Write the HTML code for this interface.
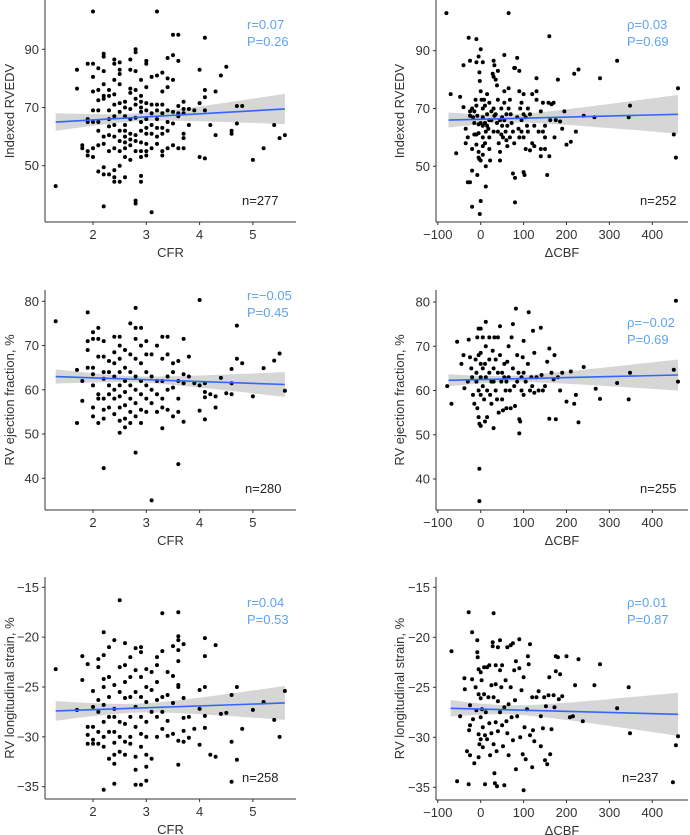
<!DOCTYPE html>
<html><head><meta charset="utf-8"><style>
html,body{margin:0;padding:0;background:#fff;}
svg{display:block;font-family:"Liberation Sans",sans-serif;}
</style></head><body>
<svg id="chart" width="690" height="835" viewBox="0 0 690 835"></svg>
<script>
const cfrTicks=[2,3,4,5];
const cbfTicks=[-100,0,100,200,300,400];
const rvedvTicks=[50,70,90];
const efTicks=[40,50,60,70,80];
const strainTicks=[-35,-30,-25,-20,-15];
const statLabels=[["r=0.07","P=0.26"],["\u03c1=0.03","P=0.69"],["r=\u22120.05","P=0.45"],["\u03c1=\u22120.02","P=0.69"],["r=0.04","P=0.53"],["\u03c1=0.01","P=0.87"]];
const nLabels=["n=277","n=252","n=280","n=255","n=258","n=237"];
// regression fits: [x1,y1,x2,y2]
const fitLines=[[1.3,65,5.6,69.5],[-75,66,460,68],[1.3,63,5.6,61.2],[-75,62.3,460,63.5],[1.3,-27.4,5.6,-26.6],[-70,-27.1,460,-27.7]];
// CI: [meanX, minHalfWidth, halfWidthAtRightEnd]
const ciParams=[[2.8,1.4,5.2],[60,1.4,6.7],[2.8,0.7,2.8],[60,0.7,3.5],[2.8,0.45,1.7],[60,0.45,2.15]];
const cfrRvedv=[[2.0,103],[3.2,103],[1.7,83],[1.7,76.5],[1.9,85],[2.0,85],[2.0,80.5],[2.1,83.5],[2.2,88.5],[2.2,87.5],[2.2,82.5],[2.0,75.5],[2.1,76],[2.1,72.5],[2.1,69],[2.0,69],[1.9,66],[1.9,65],[2.0,65],[2.1,65],[2.1,62],[2.2,78],[2.2,74],[2.2,73],[2.3,76],[2.3,74],[2.3,69],[2.3,66],[2.3,63.5],[2.3,60.5],[2.2,60],[2.2,57.5],[2.1,57],[2.0,56],[2.0,53],[1.9,55],[1.9,53.5],[1.8,57],[1.8,56],[2.1,48],[2.2,49.5],[2.2,47],[2.3,47],[2.4,48.5],[2.4,46],[2.4,44.5],[2.5,44.5],[2.5,50],[2.6,46],[2.2,36],[2.4,86.5],[2.4,85],[2.5,85.5],[2.5,83],[2.5,81.5],[2.4,79.5],[2.5,78],[2.4,74.5],[2.4,71],[2.5,71.5],[2.5,68.5],[2.4,67],[2.4,64],[2.5,62],[2.4,60],[2.5,58.5],[2.6,58],[2.6,56],[2.4,56],[2.5,55],[2.6,53],[2.3,55],[2.7,86.5],[2.7,83],[2.8,90],[2.8,89],[2.8,82.5],[2.7,76.5],[2.7,75],[2.8,76],[2.8,73],[2.8,71],[2.7,69.5],[2.6,72],[2.6,70],[2.6,67],[2.7,66],[2.8,66.5],[2.6,64],[2.6,62],[2.7,61],[2.8,60.5],[2.7,59],[2.6,60],[2.8,58.5],[2.7,57],[2.8,55],[2.7,52],[2.8,38],[2.8,37],[2.9,79.5],[2.9,74],[2.9,72],[2.9,70],[2.9,68.5],[2.9,65],[2.9,62],[2.9,58],[2.9,55],[2.9,53],[2.9,46.5],[2.9,44.5],[3.0,86],[3.0,85],[3.0,77],[3.0,71.5],[3.0,69],[3.0,66],[3.0,63],[3.0,61],[3.0,57.5],[3.0,55],[3.0,53.5],[3.1,80.5],[3.1,71],[3.1,68],[3.1,64],[3.1,61],[3.1,56],[3.1,34],[3.2,81],[3.2,71],[3.2,69],[3.2,66],[3.2,63],[3.2,60],[3.2,57.5],[3.3,82],[3.3,75.5],[3.3,71],[3.3,68],[3.3,63],[3.3,61],[3.3,55],[3.3,53.5],[3.4,87],[3.4,80],[3.4,77],[3.4,69],[3.4,65],[3.4,62],[3.4,56],[3.5,95],[3.5,88],[3.5,79.5],[3.5,68.5],[3.5,64.5],[3.5,57],[3.6,95],[3.6,86],[3.6,70.5],[3.6,68],[3.6,67],[3.6,56],[3.7,72],[3.7,69.5],[3.7,68],[3.7,61],[3.7,59.5],[3.7,56],[3.8,69.5],[3.8,64],[3.9,69],[4.0,83],[4.0,71.5],[4.0,53],[4.1,94],[4.1,76],[4.1,73.5],[4.1,69],[4.1,52.5],[4.2,64],[4.3,75.5],[4.3,60.5],[4.4,81],[4.5,84],[4.6,62],[4.6,61],[4.7,70.5],[4.7,64.5],[4.8,70.5],[5.0,52],[5.2,56],[5.4,64],[5.5,59.5],[5.6,60.5],[1.3,43]];
const cbfRvedv=[[-80,103],[65,103],[-28,94.5],[-10,94],[160,95],[-25,86.5],[-5,88],[0,90.5],[-40,85],[-10,86],[5,86],[-3,82.5],[-2,79.5],[-70,75],[-48,74],[-40,70.5],[-57,54.5],[-35,58],[-30,60],[-25,67.5],[-20,70],[-15,69],[-12,73],[-10,71],[-8,67.5],[-5,64.5],[-5,61.5],[-10,61],[-15,61],[-20,56],[-10,57.5],[-5,55],[-5,53],[-3,52.5],[0,52],[0,76],[2,73],[5,70],[5,67],[5,64],[5,60],[5,57],[5,54],[8,73],[10,71],[10,65],[12,62],[10,58],[12,50],[15,75],[15,68],[18,63],[20,60],[20,56],[22,52],[20,72],[25,69],[25,66],[28,82],[30,81],[30,86.5],[32,85],[35,80],[38,78],[40,83],[40,73],[35,68],[38,65],[40,62],[42,58],[45,55],[45,52],[48,70],[50,67],[50,64],[52,60],[55,88.5],[55,76],[55,66],[58,62],[60,59],[62,57],[65,70],[65,77],[68,73],[70,68],[72,65],[75,62],[78,58],[78,84],[80,84],[80,46],[75,47.5],[85,87.5],[90,83],[90,76],[92,70],[95,66],[95,62],[100,75],[100,68],[100,60],[100,48],[102,47],[105,56],[110,70],[110,62],[115,55.5],[120,58],[120,75],[125,64],[130,80.5],[130,76],[130,73],[135,62],[140,53.5],[140,56],[140,69],[145,72],[150,64],[150,60],[155,47],[158,72],[160,53.5],[162,66],[165,71.5],[170,72],[172,60],[175,66],[180,80],[185,65.5],[190,63],[195,69],[200,57.5],[210,58.5],[218,82],[222,62],[228,83.5],[240,67.5],[265,67],[278,80.5],[318,86.5],[345,67],[348,71],[450,61],[455,53],[460,77],[-20,36],[0,38],[-2,33.5],[-30,44.5],[-25,44.5],[-20,48.5],[-8,47],[12,43],[80,37.5],[-25,69],[-15,65],[-18,67],[0,65],[-35,63],[30,62],[32,67.5],[30,70],[20,66],[15,64],[45,66],[48,61],[55,72],[60,68],[62,64],[68,60],[85,67],[88,63],[90,60],[95,72],[105,67],[108,64],[115,68],[125,57],[145,62],[150,56]];
const cfrEf=[[1.3,75.5],[1.7,64.5],[1.7,52.5],[1.8,57.5],[1.8,62],[1.9,77.5],[1.9,71],[1.9,69],[1.9,65],[2.0,73],[2.0,71.5],[2.0,65],[2.0,61],[2.0,56],[2.0,54],[2.0,63.5],[2.1,74],[2.1,71.5],[2.1,67.5],[2.1,59],[2.1,58],[2.1,52.5],[2.2,71],[2.2,67.5],[2.2,64],[2.2,62.5],[2.2,58],[2.2,55.5],[2.2,53.5],[2.2,42.3],[2.3,66.5],[2.3,64],[2.3,61],[2.3,59],[2.3,56],[2.4,72],[2.4,68.5],[2.4,66],[2.4,63],[2.4,60],[2.4,58],[2.4,54.5],[2.5,72],[2.5,70],[2.5,67],[2.5,64],[2.5,61],[2.5,58.5],[2.5,56],[2.5,53],[2.5,50.3],[2.6,69],[2.6,65],[2.6,62],[2.6,59.5],[2.6,56.5],[2.6,53.5],[2.6,51.5],[2.7,75],[2.7,68],[2.7,64],[2.7,61],[2.7,58],[2.7,55],[2.7,52.5],[2.8,78.5],[2.8,74],[2.8,71.5],[2.8,67],[2.8,63],[2.8,60],[2.8,57],[2.8,54],[2.8,45.8],[2.9,74],[2.9,70],[2.9,66],[2.9,62],[2.9,59],[2.9,55.5],[2.9,52.5],[3.0,71],[3.0,68],[3.0,64],[3.0,61],[3.0,58],[3.0,55],[3.1,68],[3.1,63],[3.1,60],[3.1,57],[3.1,35],[3.2,70],[3.2,62],[3.2,59],[3.2,55],[3.3,72],[3.3,67],[3.3,62],[3.3,58],[3.3,56],[3.3,51.3],[3.4,72],[3.4,68],[3.4,63],[3.4,60],[3.4,55.5],[3.5,66],[3.5,64],[3.5,60.5],[3.5,54],[3.6,66.5],[3.6,62],[3.6,58],[3.6,55],[3.6,43.2],[3.7,71.5],[3.7,63.5],[3.7,61.5],[3.7,52.8],[3.8,67.5],[3.8,63],[3.9,61.5],[4.0,80.3],[4.0,61],[4.0,55.3],[4.1,61.5],[4.1,59.5],[4.1,58.3],[4.1,53.3],[4.2,59],[4.3,58.5],[4.3,56],[4.4,62.7],[4.5,59.2],[4.6,64.7],[4.6,61.5],[4.6,59],[4.7,74.5],[4.7,67],[4.8,66],[5.0,58.5],[5.2,64.9],[5.4,66.6],[5.5,68.2],[5.6,59.8]];
const cbfEf=[[-78,61],[-68,57],[-55,71],[-45,66],[-40,68],[-38,60.5],[-30,62],[-28,71.5],[-25,67.5],[-22,65],[-20,63],[-18,59],[-15,57],[-12,67],[-10,64],[-8,72],[-5,74],[-5,68],[-5,60],[-8,56],[-5,54],[-3,52.5],[0,74],[0,68.5],[0,66],[0,63],[0,59],[0,52],[-3,42.3],[-3,35],[5,72],[5,65],[5,61],[8,58],[10,53],[12,75.5],[12,70],[12,63],[15,60],[15,54],[20,72],[20,67],[20,64],[22,59],[25,57],[28,69],[30,65],[30,62],[30,51.5],[32,72],[35,67],[35,60],[38,58],[40,72],[40,64],[42,55],[45,74.5],[45,68],[48,62],[50,58],[52,55.5],[55,66],[55,63],[58,60],[60,56],[62,66.5],[65,70],[65,63],[68,60],[70,56],[72,72],[75,75],[75,65],[78,61],[80,56.5],[82,78.5],[85,68],[88,64],[90,53.5],[90,50.3],[92,53],[95,60],[98,67.5],[100,71.2],[100,64],[100,59],[105,62],[110,66],[112,77.7],[115,60],[118,63],[122,73.5],[125,68.5],[125,59.5],[130,63],[135,60],[140,74.2],[142,63.5],[145,60],[150,61],[155,66.5],[160,69.5],[160,53.6],[165,64],[170,62.5],[172,68],[175,53.5],[180,63],[185,60],[190,64],[210,64.3],[200,57.5],[218,57],[222,59],[228,52.8],[240,65.3],[268,60.4],[278,58.1],[318,61.7],[345,58],[348,64],[450,64.7],[455,80.3],[460,62],[-10,62],[10,66],[25,62],[50,64],[60,62],[85,62],[95,63],[120,61]];
const cfrStrain=[[1.3,-23.2],[1.7,-27.3],[1.8,-24.3],[1.8,-21.9],[1.9,-22.7],[1.9,-29],[1.9,-29.8],[1.9,-30.7],[2.0,-25.4],[2.0,-27],[2.0,-29],[2.0,-30.3],[2.0,-30.7],[2.1,-22.2],[2.1,-23],[2.1,-26.3],[2.1,-27.5],[2.1,-29.5],[2.1,-30.7],[2.2,-19.5],[2.2,-21.8],[2.2,-24.2],[2.2,-25],[2.2,-26.8],[2.2,-28.5],[2.2,-30],[2.2,-31],[2.2,-35.3],[2.3,-21],[2.3,-24],[2.3,-26],[2.3,-28],[2.3,-29.5],[2.3,-32.2],[2.4,-20.3],[2.4,-24.8],[2.4,-27.2],[2.4,-28],[2.4,-29.5],[2.4,-30.6],[2.4,-31.8],[2.4,-32.7],[2.4,-34.7],[2.5,-16.3],[2.5,-23],[2.5,-25.5],[2.5,-28.5],[2.5,-30],[2.5,-31.5],[2.6,-20.6],[2.6,-22.8],[2.6,-24.5],[2.6,-26.1],[2.6,-28.7],[2.6,-30.5],[2.6,-31.8],[2.7,-22],[2.7,-24],[2.7,-26],[2.7,-28],[2.7,-30],[2.7,-30.7],[2.8,-21.1],[2.8,-23.3],[2.8,-25.5],[2.8,-27],[2.8,-29],[2.8,-32],[2.8,-33.3],[2.8,-34.8],[2.9,-21],[2.9,-21.5],[2.9,-24],[2.9,-26],[2.9,-28],[2.9,-29.7],[2.9,-31],[2.9,-34.8],[3.0,-23.2],[3.0,-25],[3.0,-26.5],[3.0,-28.5],[3.0,-30],[3.0,-31.8],[3.0,-33],[3.0,-34.4],[3.1,-23.5],[3.1,-25.3],[3.1,-27.5],[3.1,-32.2],[3.2,-22],[3.2,-22.8],[3.2,-24.5],[3.2,-26.3],[3.2,-28],[3.2,-30],[3.3,-17.6],[3.3,-21.4],[3.3,-26],[3.3,-27.5],[3.3,-29.2],[3.4,-23.5],[3.4,-25.8],[3.4,-28.4],[3.4,-29.9],[3.5,-20.9],[3.5,-23.9],[3.5,-26.6],[3.5,-29.7],[3.6,-17.5],[3.6,-19.9],[3.6,-20.3],[3.6,-21.3],[3.6,-22.4],[3.6,-24.8],[3.6,-25],[3.6,-30.4],[3.6,-32.8],[3.7,-20.7],[3.7,-26.1],[3.7,-28.1],[3.7,-29.4],[3.7,-30.5],[3.8,-28],[3.8,-30.1],[3.9,-29.2],[4.0,-25.3],[4.0,-27.2],[4.0,-30.8],[4.1,-20.1],[4.1,-21.9],[4.1,-25],[4.1,-27.9],[4.1,-29.1],[4.2,-31.8],[4.3,-20.8],[4.3,-32],[4.4,-27.7],[4.5,-27.6],[4.6,-25.8],[4.6,-30.5],[4.6,-34.5],[4.7,-25],[4.7,-32.3],[4.8,-29.2],[5.0,-27.3],[5.2,-26.5],[5.4,-28.3],[5.5,-30],[5.6,-25.4]];
const cbfStrain=[[-68,-21.4],[-55,-34.4],[-48,-27.9],[-38,-24.1],[-37,-25.2],[-32,-31.4],[-28,-17.5],[-28,-34.7],[-27,-29.3],[-25,-26.8],[-25,-28.8],[-25,-31.8],[-20,-19.5],[-20,-24.2],[-18,-28.2],[-15,-32.6],[-12,-25],[-10,-27.3],[-8,-20.3],[-8,-21.5],[-7,-22],[-5,-23.2],[-5,-25.7],[-5,-29.7],[-5,-32],[-3,-30.7],[0,-23.5],[0,-26.1],[0,-28],[0,-30.2],[2,-24.3],[3,-27.2],[5,-29],[5,-31],[8,-23],[8,-25.7],[10,-29.8],[10,-34.7],[12,-27.5],[15,-23],[15,-30.2],[18,-26],[20,-22.8],[20,-28.6],[22,-31.8],[25,-24.8],[25,-29.6],[28,-20.9],[28,-20.5],[30,-17.6],[30,-26],[30,-30.7],[32,-33.6],[33,-34.6],[35,-22.8],[35,-24.7],[35,-28.5],[37,-31.4],[38,-34.9],[40,-21],[40,-26.4],[40,-29.4],[45,-20.3],[45,-23.3],[45,-27.5],[48,-25],[50,-22.8],[50,-28.8],[52,-30.9],[55,-27],[55,-34.8],[58,-24.3],[60,-28.4],[62,-21],[62,-29.6],[65,-31.8],[65,-26.7],[70,-20.8],[70,-25],[72,-28],[75,-30.3],[75,-20.6],[78,-23.3],[80,-26.3],[82,-22.4],[82,-33.2],[85,-27.9],[90,-20.2],[90,-23.1],[92,-30],[95,-25.3],[98,-31.7],[100,-24],[100,-35.3],[102,-29],[105,-32.2],[108,-27.2],[110,-21.9],[112,-22.7],[115,-20.7],[115,-29.8],[120,-26],[120,-33],[122,-29.3],[125,-30.4],[130,-26],[135,-25.4],[140,-27.9],[140,-30.9],[145,-29.1],[148,-26],[150,-32.3],[152,-26.9],[155,-32.7],[158,-25.8],[160,-24],[162,-31.7],[165,-29.2],[170,-25.8],[172,-27],[175,-23.4],[175,-21.9],[180,-22],[182,-26.2],[185,-23.7],[190,-25.9],[200,-21.9],[208,-28],[215,-27.9],[220,-24.8],[228,-22.2],[238,-28.4],[265,-24.8],[278,-22.7],[318,-27.1],[345,-25],[348,-29.6],[448,-34.5],[455,-30.8],[460,-29.9]];

const NS="http://www.w3.org/2000/svg";
const svg=document.getElementById('chart');
function mk(tag,attrs,parent){const e=document.createElementNS(NS,tag);for(const k in attrs)e.setAttribute(k,attrs[k]);(parent||svg).appendChild(e);return e;}
function lin(v0,p0,v1,p1){return v=>p0+(v-v0)*(p1-p0)/(v1-v0);}

const panels=[
 {data:cfrRvedv,xt:cfrTicks,yt:rvedvTicks,xs:lin(2,93,3,146.3),ys:lin(90,49.3,50,165.7),ax:45,right:296,top:0,bot:222,xl:"CFR",yl:"Indexed RVEDV",sx:247,sy:24,nx:242,ny:200},
 {data:cbfRvedv,xt:cbfTicks,yt:rvedvTicks,xs:lin(0,480.7,400,652.3),ys:lin(90,50.7,50,166.3),ax:436,right:688,top:0,bot:222,xl:"\u0394CBF",yl:"Indexed RVEDV",sx:627,sy:24,nx:640,ny:200},
 {data:cfrEf,xt:cfrTicks,yt:efTicks,xs:lin(2,93,3,146.3),ys:lin(80,301.3,40,478.3),ax:45,right:296,top:290,bot:510,xl:"CFR",yl:"RV ejection fraction, %",sx:247,sy:295,nx:245,ny:488},
 {data:cbfEf,xt:cbfTicks,yt:efTicks,xs:lin(0,480.7,400,652.3),ys:lin(80,302,40,479),ax:436,right:688,top:290,bot:510,xl:"\u0394CBF",yl:"RV ejection fraction, %",sx:627,sy:322,nx:640,ny:488},
 {data:cfrStrain,xt:cfrTicks,yt:strainTicks,xs:lin(2,93,3,146.3),ys:lin(-15,587.3,-35,786.7),ax:45,right:296,top:577,bot:799,xl:"CFR",yl:"RV longitudinal strain, %",sx:247,sy:602,nx:242,ny:777},
 {data:cbfStrain,xt:cbfTicks,yt:strainTicks,xs:lin(0,480.7,400,652.3),ys:lin(-15,587.3,-35,787.3),ax:436,right:688,top:577,bot:800,xl:"\u0394CBF",yl:"RV longitudinal strain, %",sx:627,sy:602,nx:622,ny:777}
];

panels.forEach((p,i)=>{
 const g=mk('g',{});
 
 
 // CI band
 const f=fitLines[i],c=ciParams[i];
 const slope=(f[3]-f[1])/(f[2]-f[0]);
 const yAt=x=>f[1]+slope*(x-f[0]);
 const k=Math.sqrt(Math.max(c[2]*c[2]-c[1]*c[1],0))/(f[2]-c[0]);
 const hw=x=>Math.sqrt(c[1]*c[1]+k*k*(x-c[0])*(x-c[0]));
 const up=[],lo=[];
 for(let s=0;s<=40;s++){const x=f[0]+(f[2]-f[0])*s/40;up.push(p.xs(x).toFixed(1)+','+p.ys(yAt(x)+hw(x)).toFixed(1));lo.unshift(p.xs(x).toFixed(1)+','+p.ys(yAt(x)-hw(x)).toFixed(1));}
 const band=mk('polygon',{points:up.concat(lo).join(' '),fill:'#cfcfcf','fill-opacity':'0.85'},g);
 
 
 // points
 p.data.forEach(d=>{
  const dot=mk('circle',{cx:p.xs(d[0]).toFixed(1),cy:p.ys(d[1]).toFixed(1),r:2,fill:'#000'},g);
  
  
 });
 const ln=mk('line',{x1:p.xs(f[0]),y1:p.ys(f[1]),x2:p.xs(f[2]),y2:p.ys(f[3]),stroke:'#3366ff','stroke-width':1.6},g);
 
 
 // axes
 const ya=mk('line',{x1:p.ax,y1:p.top,x2:p.ax,y2:p.bot,stroke:'#333','stroke-width':1},g);
 
 
 const xa=mk('line',{x1:p.ax,y1:p.bot,x2:p.right,y2:p.bot,stroke:'#333','stroke-width':1},g);
 
 
 p.xt.forEach(t=>{
  const x=p.xs(t);
  mk('line',{x1:x,y1:p.bot,x2:x,y2:p.bot+3,stroke:'#333'},g);
  const tx=mk('text',{x:x,y:p.bot+17,'text-anchor':'middle','font-size':13,fill:'#333'},g);
  tx.textContent=t<0?'\u2212'+(-t):String(t);
  
  
 });
 p.yt.forEach(t=>{
  const y=p.ys(t);
  mk('line',{x1:p.ax-3,y1:y,x2:p.ax,y2:y,stroke:'#333'},g);
  const ty=mk('text',{x:p.ax-6,y:y+4.5,'text-anchor':'end','font-size':13,fill:'#333'},g);
  ty.textContent=t<0?'\u2212'+(-t):String(t);
  
  
 });
 const xt=mk('text',{x:(p.ax+p.right)/2,y:p.bot+35,'text-anchor':'middle','font-size':13,fill:'#333'},g);
 xt.textContent=p.xl;
 
 
 const yx=p.ax<100?14:404;
 const ym=(p.top+p.bot)/2;
 const yt=mk('text',{x:yx,y:ym,'text-anchor':'middle','font-size':13,fill:'#333',transform:'rotate(-90 '+yx+' '+ym+')'},g);
 yt.textContent=p.yl;
 
 
 const s1=mk('text',{x:p.sx,y:p.sy+5,'font-size':13,fill:'#5ea4f0'},g);
 s1.textContent=statLabels[i][0];
 
 
 const s2=mk('text',{x:p.sx,y:p.sy+22,'font-size':13,fill:'#5ea4f0'},g);
 s2.textContent=statLabels[i][1];
 
 
 const nt=mk('text',{x:p.nx,y:p.ny+5,'font-size':13,fill:'#222'},g);
 nt.textContent=nLabels[i];
 
 
});
</script>
</body></html>
